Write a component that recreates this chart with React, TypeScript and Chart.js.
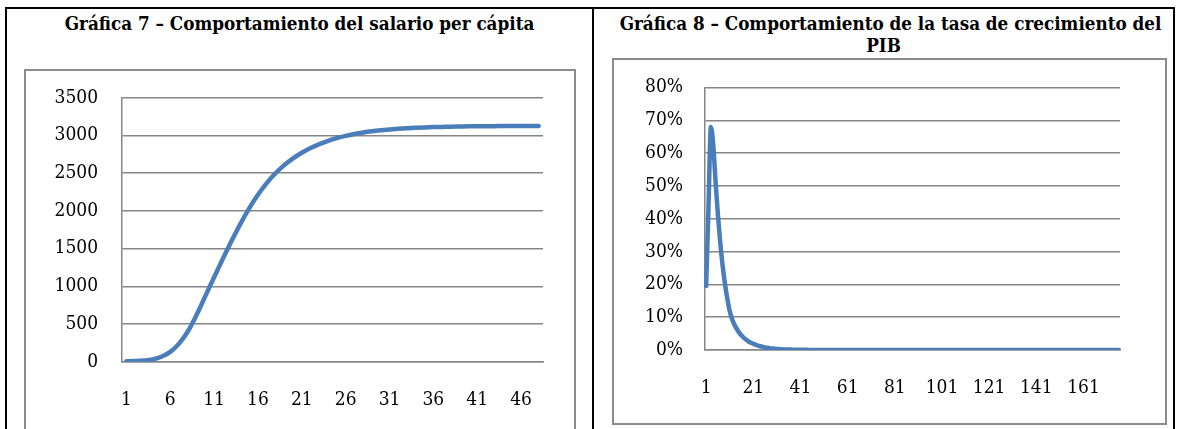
import React, { useEffect, useRef } from 'react';
import { Chart, registerables } from 'chart.js';

Chart.register(...registerables);

// ---- Gráfica 7: salario per cápita (48 periods) ----
const salarioPerCapita = [
  5, 8, 15, 30, 65, 130, 240, 400, 620, 870,
  1120, 1365, 1603, 1828, 2033, 2213, 2368, 2498, 2606, 2696,
  2771, 2833, 2885, 2928, 2964, 2994, 3019, 3039, 3055, 3068,
  3079, 3088, 3095, 3101, 3106, 3110, 3113, 3116, 3118, 3120,
  3121, 3122, 3123, 3124, 3124, 3125, 3125, 3125,
];
const salarioXTicks = ['1', '6', '11', '16', '21', '26', '31', '36', '41', '46'];
const salarioYTicks = [0, 500, 1000, 1500, 2000, 2500, 3000, 3500];

// ---- Gráfica 8: tasa de crecimiento del PIB (176 periods) ----
const tasaPIB = [
  0.195, 0.44, 0.68, 0.625, 0.51, 0.41, 0.325, 0.255, 0.2, 0.155, 0.118, 0.094, 0.077, 0.064, 0.053, 0.044, 0.037, 0.031, 0.026, 0.022,
  0.019, 0.016, 0.0135, 0.0113, 0.0095, 0.008, 0.0067, 0.0056, 0.0047, 0.004, 0.0033, 0.0028, 0.0023, 0.0019, 0.0016, 0.0014, 0.0012, 0.001, 0.0008, 0.0007,
  0.0006, 0.0005, 0.0004, 0.0004, 0.0003, 0.0003, 0.0002, 0.0002, 0.0002, 0.0002, 0.0002, 0.0002, 0.0002, 0.0001, 0.0001, 0.0001, 0.0001, 0.0001, 0.0001, 0.0001,
  0.0001, 0.0001, 0.0001, 0.0001, 0.0001, 0.0001, 0.0001, 0.0001, 0.0001, 0.0001, 0, 0, 0, 0, 0, 0, 0, 0, 0, 0,
  0, 0, 0, 0, 0, 0, 0, 0, 0, 0, 0, 0, 0, 0, 0, 0, 0, 0, 0, 0,
  0, 0, 0, 0, 0, 0, 0, 0, 0, 0, 0, 0, 0, 0, 0, 0, 0, 0, 0, 0,
  0, 0, 0, 0, 0, 0, 0, 0, 0, 0, 0, 0, 0, 0, 0, 0, 0, 0, 0, 0,
  0, 0, 0, 0, 0, 0, 0, 0, 0, 0, 0, 0, 0, 0, 0, 0, 0, 0, 0, 0,
  0, 0, 0, 0, 0, 0, 0, 0, 0, 0, 0, 0, 0, 0, 0, 0,
];
const pibXTicks = ['1', '21', '41', '61', '81', '101', '121', '141', '161'];
const pibYTicks = [0, 0.1, 0.2, 0.3, 0.4, 0.5, 0.6, 0.7, 0.8];

const FONT = "'DejaVu Serif Condensed', 'DejaVu Serif', serif";
const LINE_COLOR = '#4a7ebb';
const GRID_COLOR = '#868686';
const TICK_SIZE = 19;

type LineChartProps = {
  values: number[];
  shownXTicks: string[];
  yTicks: number[];
  yFormat: (v: number) => string;
  width: number;
  height: number;
  yAxisWidth: number;
  xAxisHeight: number;
  padTop: number;
  padRight: number;
  yLabelGap: number;
  xLabelGap: number;
};

function LineChart(props: LineChartProps) {
  const ref = useRef<HTMLCanvasElement | null>(null);
  useEffect(() => {
    if (!ref.current) return;
    const labels = props.values.map((_, i) => String(i + 1));
    const yMin = props.yTicks[0];
    const yMax = props.yTicks[props.yTicks.length - 1];
    const yStep = props.yTicks[1] - props.yTicks[0];
    const chart = new Chart(ref.current, {
      type: 'line',
      data: {
        labels,
        datasets: [
          {
            data: props.values,
            borderColor: LINE_COLOR,
            backgroundColor: LINE_COLOR,
            borderWidth: 4.5,
            pointRadius: 0,
            pointHoverRadius: 0,
            cubicInterpolationMode: 'monotone',
            borderCapStyle: 'round',
            borderJoinStyle: 'round',
            fill: false,
          },
        ],
      },
      options: {
        animation: false,
        responsive: false,
        events: [],
        layout: { padding: { top: props.padTop, right: props.padRight, left: 0, bottom: 0 } },
        plugins: { legend: { display: false }, tooltip: { enabled: false }, title: { display: false } },
        scales: {
          x: {
            type: 'category',
            offset: true,
            grid: { display: false, drawTicks: false },
            border: { display: true, color: GRID_COLOR, width: 1.5 },
            ticks: {
              autoSkip: false,
              maxRotation: 0,
              minRotation: 0,
              padding: props.xLabelGap,
              color: '#000',
              font: { family: FONT, size: TICK_SIZE },
              callback: function (_v: any, i: number) {
                const l = labels[i];
                return props.shownXTicks.includes(l) ? l : '';
              },
            },
            afterFit: (scale: any) => {
              scale.height = props.xAxisHeight;
            },
          },
          y: {
            min: yMin,
            max: yMax,
            grid: {
              color: GRID_COLOR,
              lineWidth: 1.5,
              drawTicks: true,
              tickLength: props.yLabelGap,
              tickColor: 'rgba(0,0,0,0)',
            },
            border: { display: true, color: GRID_COLOR, width: 1.5 },
            ticks: {
              stepSize: yStep,
              padding: 0,
              color: '#000',
              font: { family: FONT, size: TICK_SIZE },
              callback: (v: any) => props.yFormat(Number(v)),
            },
            afterFit: (scale: any) => {
              scale.width = props.yAxisWidth;
            },
          },
        },
      },
    } as any);
    return () => chart.destroy();
  }, []);
  return (
    <canvas
      ref={ref}
      width={props.width}
      height={props.height}
      style={{ position: 'absolute', left: 0, top: 0, width: props.width, height: props.height }}
    />
  );
}

const titleStyle: React.CSSProperties = {
  position: 'absolute',
  fontFamily: FONT,
  fontWeight: 'bold',
  fontSize: 18.7,
  lineHeight: '22px',
  textAlign: 'center',
  color: '#000',
  whiteSpace: 'nowrap',
};

export default function App() {
  return (
    <div
      style={{
        position: 'fixed',
        left: 0,
        top: 0,
        width: 1179,
        height: 429,
        overflow: 'hidden',
        background: '#fff',
      }}
    >
      {/* table lines */}
      <div style={{ position: 'absolute', left: 5, top: 7, width: 1170, height: 2, background: '#000' }} />
      <div style={{ position: 'absolute', left: 5, top: 7, width: 2, height: 430, background: '#000' }} />
      <div style={{ position: 'absolute', left: 592, top: 7, width: 2, height: 430, background: '#000' }} />
      <div style={{ position: 'absolute', left: 1173, top: 7, width: 2, height: 430, background: '#000' }} />

      {/* titles */}
      <div style={{ ...titleStyle, left: 7, width: 585, top: 12 }}>
        Gráfica 7 – Comportamiento del salario per cápita
      </div>
      <div style={{ ...titleStyle, left: 594, width: 579, top: 12 }}>
        <span style={{ position: 'relative', left: 7 }}>
          Gráfica 8 – Comportamiento de la tasa de crecimiento del
        </span>
        <br />
        PIB
      </div>

      {/* chart 7 */}
      <div style={{ position: 'absolute', left: 24, top: 69, width: 552, height: 380 }}>
        <LineChart
          values={salarioPerCapita}
          shownXTicks={salarioXTicks}
          yTicks={salarioYTicks}
          yFormat={(v) => String(Math.round(v))}
          width={552}
          height={360}
          yAxisWidth={98}
          xAxisHeight={67.3}
          padTop={28.7}
          padRight={33}
          yLabelGap={24}
          xLabelGap={27}
        />
        <div
          style={{
            position: 'absolute',
            left: 0,
            top: 0,
            width: 552,
            height: 380,
            boxSizing: 'border-box',
            border: '2px solid #8c8c8c',
          }}
        />
      </div>

      {/* chart 8 */}
      <div style={{ position: 'absolute', left: 612, top: 58, width: 555, height: 367 }}>
        <LineChart
          values={tasaPIB}
          shownXTicks={pibXTicks}
          yTicks={pibYTicks}
          yFormat={(v) => Math.round(v * 100) + '%'}
          width={555}
          height={367}
          yAxisWidth={93}
          xAxisHeight={75}
          padTop={29.5}
          padRight={47}
          yLabelGap={22}
          xLabelGap={27}
        />
        <div
          style={{
            position: 'absolute',
            left: 0,
            top: 0,
            width: 555,
            height: 367,
            boxSizing: 'border-box',
            border: '2px solid #8c8c8c',
          }}
        />
      </div>
    </div>
  );
}
